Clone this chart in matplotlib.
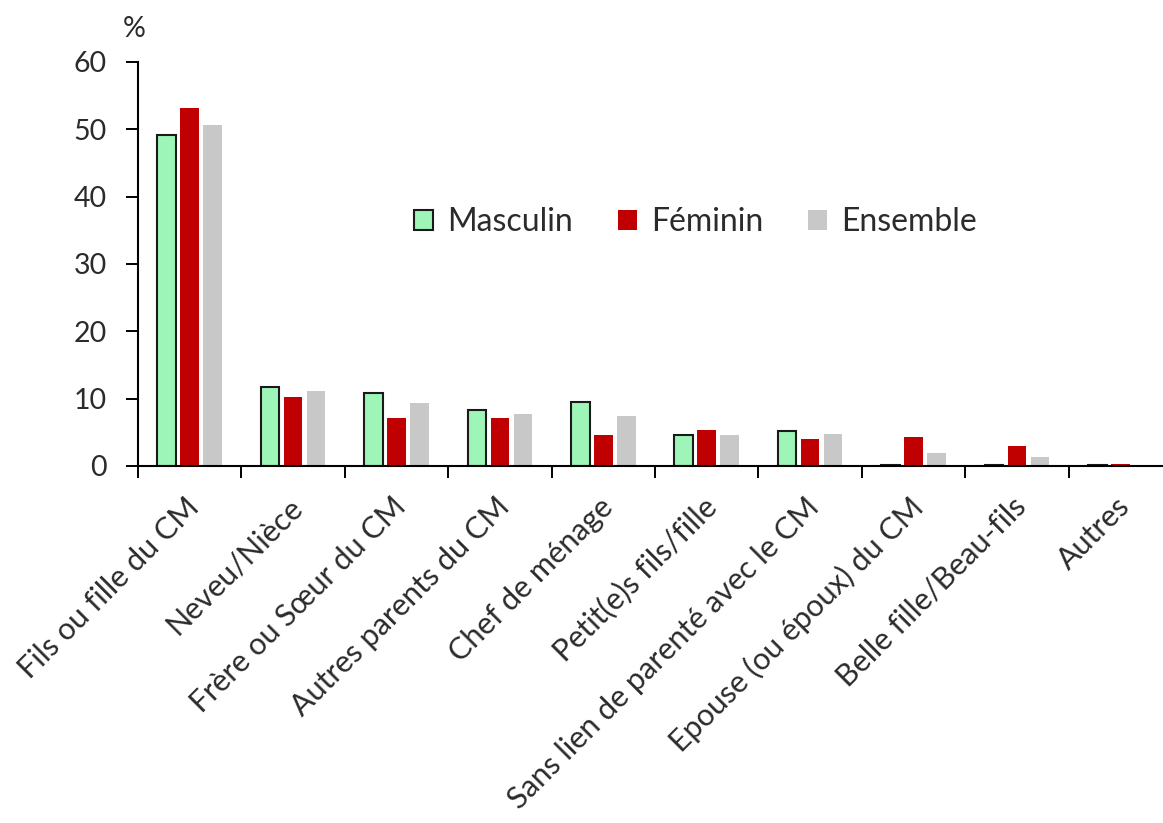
import matplotlib
matplotlib.use("Agg")
import matplotlib.pyplot as plt
from matplotlib.transforms import ScaledTranslation
import numpy as np

categories = ["Fils ou fille du CM", "Neveu/Nièce", "Frère ou Sœur du CM",
              "Autres parents du CM", "Chef de ménage", "Petit(e)s fils/fille",
              "Sans lien de parenté avec le CM", "Epouse (ou époux) du CM",
              "Belle fille/Beau-fils", "Autres"]
masculin = [49.2, 11.8, 10.8, 8.3, 9.5, 4.6, 5.2, 0.2, 0.2, 0.2]
feminin = [53.2, 10.2, 7.2, 7.1, 4.6, 5.3, 4.05, 4.35, 2.9, 0.3]
ensemble = [50.7, 11.1, 9.3, 7.7, 7.4, 4.6, 4.7, 1.9, 1.3, 0.2]

plt.rcParams['font.family'] = ['Lato', 'DejaVu Sans']
txt = '#2b2b2b'

fig = plt.figure(figsize=(11.63, 8.23), dpi=100)
ax = fig.add_axes([138 / 1163, 1 - 466 / 823, (1172 - 138) / 1163, (466 - 62) / 823])

x = np.arange(len(categories))
w = 0.18
off = 0.222
ax.bar(x - off, masculin, w, color='#9ef5b8', edgecolor='#1a1a1a', linewidth=1.5, label='Masculin')
ax.bar(x, feminin, w, color='#c00000', label='Féminin')
ax.bar(x + off, ensemble, w, color='#c8c8c8', label='Ensemble')

ax.set_xlim(-0.5, len(categories) - 0.5)
ax.set_ylim(0, 60)
ax.set_yticks(range(0, 61, 10))
ax.tick_params(axis='y', labelsize=20.5, length=8.6, width=1.4, colors='black', labelcolor=txt, pad=14)

# group boundaries carry the ticks, labels sit at group centres
ax.set_xticks(np.arange(-0.5, len(categories), 1.0))
ax.set_xticklabels([])
ax.tick_params(axis='x', which='major', length=8.6, width=1.4, colors='black')
ax.set_xticks(x, minor=True)
ax.set_xticklabels(categories, minor=True, rotation=45, ha='right',
                   rotation_mode='anchor', fontsize=22, color=txt)
ax.tick_params(axis='x', which='minor', length=0, pad=19)
shift = ScaledTranslation(-5 / 100, 0, fig.dpi_scale_trans)
for lab in ax.get_xticklabels(minor=True):
    lab.set_transform(lab.get_transform() + shift)

for s in ['top', 'right']:
    ax.spines[s].set_visible(False)
for s in ['left', 'bottom']:
    ax.spines[s].set_linewidth(1.5)

fig.text(123 / 1163, 1 - 29 / 823, '%', fontsize=20.5, color=txt, va='center')

ax.legend(loc='center left', bbox_to_anchor=(414 / 1163, 1 - 222 / 823),
          bbox_transform=fig.transFigure, ncol=3, frameon=False, fontsize=23,
          handlelength=0.6, handleheight=0.6, handletextpad=0.44,
          columnspacing=1.4, labelcolor=txt, borderpad=0, borderaxespad=0)

fig.savefig('out.png', dpi=100)
